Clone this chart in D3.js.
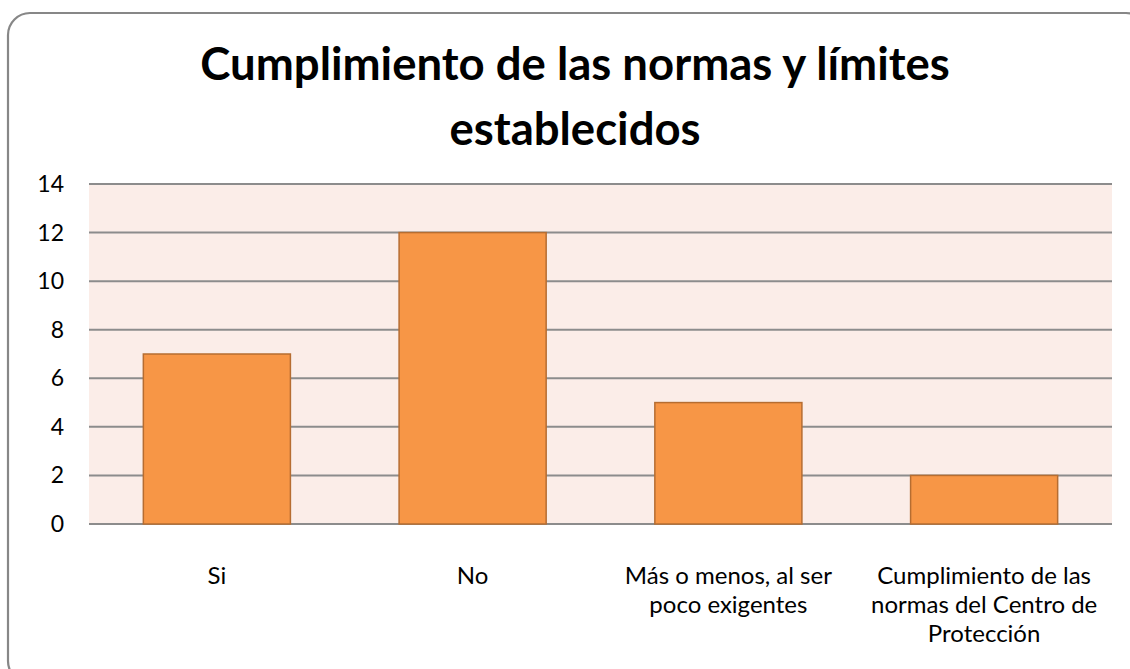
<!DOCTYPE html>
<html>
<head>
<meta charset="utf-8">
<script src="https://cdn.jsdelivr.net/npm/d3@7"></script>
<style>
  body { margin: 0; background: #fff; }
  svg { display: block; font-family: Lato, "Open Sans", sans-serif; }
</style>
</head>
<body>
<svg id="chart" width="1130" height="669"></svg>
<script>
const titleLines = ["Cumplimiento de las normas y límites", "establecidos"];
const categories = [
  ["Si"],
  ["No"],
  ["Más o menos, al ser", "poco exigentes"],
  ["Cumplimiento de las", "normas del Centro de", "Protección"],
];
const values = [7, 12, 5, 2];
const yTicks = [0, 2, 4, 6, 8, 10, 12, 14];

const svg = d3.select("#chart");
let margin = { left: 89, right: 1112, top: 184, bottom: 524 };

// outer frame
svg.append("rect")
  .attr("x", 8).attr("y", 13)
  .attr("width", 1140).attr("height", 670)
  .attr("rx", 22)
  .attr("fill", "#fff")
  .attr("stroke", "#878787")
  .attr("stroke-width", 2.2);

// title
svg.append("text")
  .attr("x", 575).attr("y", 80)
  .attr("text-anchor", "middle")
  .attr("font-weight", "bold")
  .attr("font-size", 45.5)
  .selectAll("tspan")
  .data(titleLines)
  .enter()
  .append("tspan")
  .attr("x", 575)
  .attr("dy", (d, i) => (i ? 65 : 0))
  .text((d) => d);

const x = d3.scaleBand()
  .domain(d3.range(values.length))
  .range([margin.left, margin.right])
  .paddingInner(0.425)
  .paddingOuter(0.2125);

const y = d3.scaleLinear().domain([0, 14]).range([margin.bottom, margin.top]);

// plot background
svg.append("rect")
  .attr("x", margin.left).attr("y", margin.top)
  .attr("width", margin.right - margin.left)
  .attr("height", margin.bottom - margin.top)
  .attr("fill", "#fbede8");

// gridlines
svg.append("g")
  .selectAll("line")
  .data(yTicks)
  .enter()
  .append("line")
  .attr("x1", margin.left).attr("x2", margin.right)
  .attr("y1", (d) => y(d)).attr("y2", (d) => y(d))
  .attr("stroke", "#8c8c8c")
  .attr("stroke-width", 2);

// y axis labels
svg.append("g")
  .selectAll("text")
  .data(yTicks)
  .enter()
  .append("text")
  .attr("x", 64)
  .attr("y", (d) => y(d) + 8)
  .attr("text-anchor", "end")
  .attr("font-size", 23)
  .attr("fill", "#000")
  .text((d) => d);

// bars
svg.append("g")
  .selectAll("rect")
  .data(values)
  .enter()
  .append("rect")
  .attr("x", (d, i) => x(i))
  .attr("y", (d) => y(d))
  .attr("width", x.bandwidth())
  .attr("height", (d) => y(0) - y(d))
  .attr("fill", "#f79646")
  .attr("stroke", "#b66d31")
  .attr("stroke-width", 1.5);

// category labels
svg.append("g")
  .selectAll("text")
  .data(categories)
  .enter()
  .append("text")
  .attr("text-anchor", "middle")
  .attr("font-size", 24)
  .attr("y", 584)
  .each(function (lines, i) {
    d3.select(this)
      .selectAll("tspan")
      .data(lines)
      .enter()
      .append("tspan")
      .attr("x", x(i) + x.bandwidth() / 2)
      .attr("dy", (d, j) => (j ? 29 : 0))
      .text((d) => d);
  });
</script>
</body>
</html>
